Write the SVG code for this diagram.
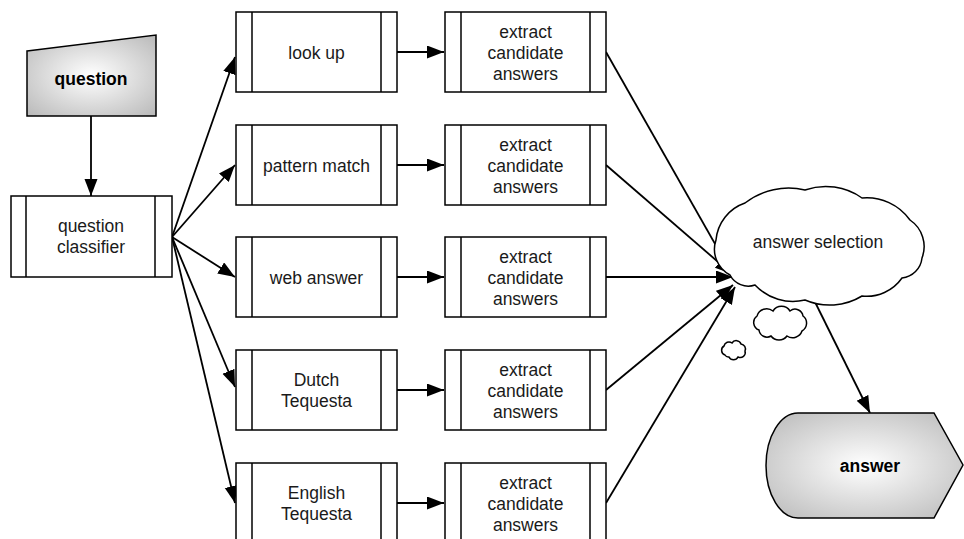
<svg xmlns="http://www.w3.org/2000/svg" width="964" height="539" viewBox="0 0 964 539">
<style>
.box{fill:#fff;stroke:#000;stroke-width:1.5}
.ln{stroke:#000;stroke-width:1.5;fill:none}
.t{font-family:"Liberation Sans",Arial,sans-serif;font-size:17.5px;fill:#1a1a1a;text-anchor:middle}
.b{font-weight:bold;fill:#000}
.c{stroke:#000;stroke-width:1.8;fill:none;marker-end:url(#ah)}
</style>
<defs>
<marker id="ah" markerUnits="userSpaceOnUse" markerWidth="18" markerHeight="14" refX="17" refY="6.5" orient="auto">
<path d="M0,0 L17,6.5 L0,13 Z" fill="#000"/>
</marker>
<radialGradient id="g" cx="0.5" cy="0.5" r="0.75">
<stop offset="0" stop-color="#ffffff"/>
<stop offset="1" stop-color="#b4b4b4"/>
</radialGradient>
</defs>
<g id="connectors">
<line class="c" x1="91" y1="116" x2="91" y2="196"/>
<line class="c" x1="172" y1="237" x2="235" y2="57"/>
<line class="c" x1="172" y1="237" x2="235" y2="165"/>
<line class="c" x1="172" y1="237" x2="235" y2="277"/>
<line class="c" x1="172" y1="237" x2="235" y2="387"/>
<line class="c" x1="172" y1="237" x2="235" y2="503"/>
<line class="c" x1="397" y1="52" x2="444" y2="52"/>
<line class="c" x1="397" y1="165" x2="444" y2="165"/>
<line class="c" x1="397" y1="277" x2="444" y2="277"/>
<line class="c" x1="397" y1="390" x2="444" y2="390"/>
<line class="c" x1="397" y1="503" x2="444" y2="503"/>
<line class="c" x1="606" y1="52" x2="731" y2="272"/>
<line class="c" x1="606" y1="165" x2="732" y2="274"/>
<line class="c" x1="606" y1="277" x2="733" y2="277"/>
<line class="c" x1="606" y1="390" x2="733" y2="285"/>
<line class="c" x1="606" y1="503" x2="735" y2="287"/>
<line class="c" x1="815" y1="302" x2="870" y2="413"/>
</g>
<g id="question">
<polygon points="27,51 156,35 156,116 27,116" fill="url(#g)" stroke="#000" stroke-width="1.5"/>
<text class="t b" x="91" y="85">question</text>
</g>
<g id="classifier">
<rect class="box" x="11" y="196" width="161" height="81"/>
<line class="ln" x1="26" y1="196" x2="26" y2="277"/>
<line class="ln" x1="155" y1="196" x2="155" y2="277"/>
<text class="t" x="91" y="232">question</text>
<text class="t" x="91" y="253">classifier</text>
</g>
<g id="lookup">
<rect class="box" x="236" y="12" width="161" height="80"/>
<line class="ln" x1="252" y1="12" x2="252" y2="92"/>
<line class="ln" x1="381" y1="12" x2="381" y2="92"/>
<text class="t" x="316.5" y="59">look up</text>
</g>
<g id="pattern">
<rect class="box" x="236" y="125" width="161" height="80"/>
<line class="ln" x1="252" y1="125" x2="252" y2="205"/>
<line class="ln" x1="381" y1="125" x2="381" y2="205"/>
<text class="t" x="316.5" y="172">pattern match</text>
</g>
<g id="web">
<rect class="box" x="236" y="237" width="161" height="80"/>
<line class="ln" x1="252" y1="237" x2="252" y2="317"/>
<line class="ln" x1="381" y1="237" x2="381" y2="317"/>
<text class="t" x="316.5" y="284">web answer</text>
</g>
<g id="dutch">
<rect class="box" x="236" y="350" width="161" height="80"/>
<line class="ln" x1="252" y1="350" x2="252" y2="430"/>
<line class="ln" x1="381" y1="350" x2="381" y2="430"/>
<text class="t" x="316.5" y="386">Dutch</text>
<text class="t" x="316.5" y="407">Tequesta</text>
</g>
<g id="english">
<rect class="box" x="236" y="463" width="161" height="80"/>
<line class="ln" x1="252" y1="463" x2="252" y2="543"/>
<line class="ln" x1="381" y1="463" x2="381" y2="543"/>
<text class="t" x="316.5" y="499">English</text>
<text class="t" x="316.5" y="520">Tequesta</text>
</g>
<g id="extract1">
<rect class="box" x="445" y="12" width="161" height="80"/>
<line class="ln" x1="461" y1="12" x2="461" y2="92"/>
<line class="ln" x1="590" y1="12" x2="590" y2="92"/>
<text class="t" x="525.5" y="38">extract</text>
<text class="t" x="525.5" y="59">candidate</text>
<text class="t" x="525.5" y="80">answers</text>
</g>
<g id="extract2">
<rect class="box" x="445" y="125" width="161" height="80"/>
<line class="ln" x1="461" y1="125" x2="461" y2="205"/>
<line class="ln" x1="590" y1="125" x2="590" y2="205"/>
<text class="t" x="525.5" y="151">extract</text>
<text class="t" x="525.5" y="172">candidate</text>
<text class="t" x="525.5" y="193">answers</text>
</g>
<g id="extract3">
<rect class="box" x="445" y="237" width="161" height="80"/>
<line class="ln" x1="461" y1="237" x2="461" y2="317"/>
<line class="ln" x1="590" y1="237" x2="590" y2="317"/>
<text class="t" x="525.5" y="263">extract</text>
<text class="t" x="525.5" y="284">candidate</text>
<text class="t" x="525.5" y="305">answers</text>
</g>
<g id="extract4">
<rect class="box" x="445" y="350" width="161" height="80"/>
<line class="ln" x1="461" y1="350" x2="461" y2="430"/>
<line class="ln" x1="590" y1="350" x2="590" y2="430"/>
<text class="t" x="525.5" y="376">extract</text>
<text class="t" x="525.5" y="397">candidate</text>
<text class="t" x="525.5" y="418">answers</text>
</g>
<g id="extract5">
<rect class="box" x="445" y="463" width="161" height="80"/>
<line class="ln" x1="461" y1="463" x2="461" y2="543"/>
<line class="ln" x1="590" y1="463" x2="590" y2="543"/>
<text class="t" x="525.5" y="489">extract</text>
<text class="t" x="525.5" y="510">candidate</text>
<text class="t" x="525.5" y="531">answers</text>
</g>
<g id="selection">
<path class="box" d="M730,275 A29,29 0 0 1 716,240 A43,43 0 0 1 745,203 A71,71 0 0 1 805,190 A63,63 0 0 1 862,198 A53,53 0 0 1 910,220 A32,32 0 0 1 922,258 A22.5,22.5 0 0 1 902,278 A43,43 0 0 1 862,296 A62,62 0 0 1 805,300 A52,52 0 0 1 755,285 A20.6,20.6 0 0 1 730,275 Z"/>
<text class="t" x="818" y="248">answer selection</text>
</g>
<g id="thought1">
<path class="box" d="M759,330 A8,8 0 0 1 757,316 A10,10 0 0 1 773,311 A10,10 0 0 1 790,311 A8,8 0 0 1 803,316 A9,9 0 0 1 802,331 A10,10 0 0 1 787,336 A10,10 0 0 1 771,336 A8,8 0 0 1 759,330 Z"/>
</g>
<g id="thought2">
<path class="box" d="M725,355 A5,5 0 0 1 724,346 A5,5 0 0 1 732,343 A5,5 0 0 1 741,344 A5,5 0 0 1 745,351 A5,5 0 0 1 738,357 A5,5 0 0 1 729,357 A4,4 0 0 1 725,355 Z"/>
</g>
<g id="answer">
<path d="M798,413 L934,413 L963,465 L934,518 L798,518 A32,52.5 0 0 1 798,413 Z" fill="url(#g)" stroke="#000" stroke-width="1.5"/>
<text class="t b" x="870" y="472">answer</text>
</g>
</svg>
